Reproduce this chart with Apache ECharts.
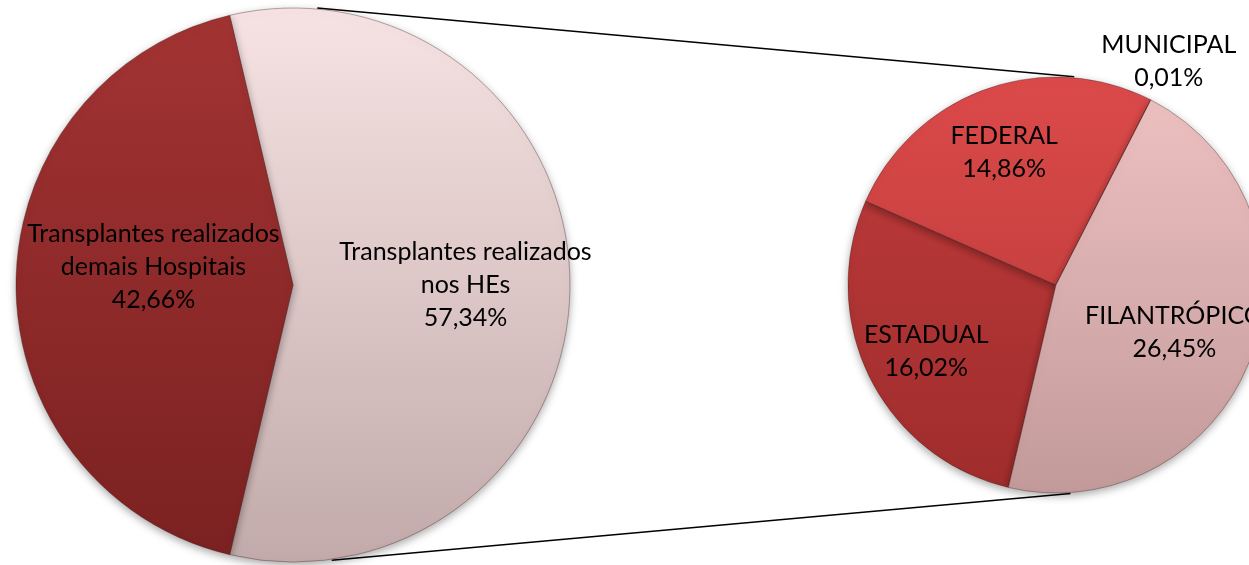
<!doctype html>
<html lang="pt-BR">
<head>
	<meta charset="UTF-8">
	<title>Transplantes</title>
	<script src="https://cdn.jsdelivr.net/npm/echarts@6/dist/echarts.min.js"></script>
	<style>
		html, body { margin: 0; padding: 0; background: #fff; }
		#chart { width: 1249px; height: 565px; }
	</style>
</head>
<body>
	<div id="chart"></div>
	<script>
		// dados
		var mainNames = ['Transplantes realizados\nnos HEs', 'Transplantes realizados\ndemais Hospitais'];
		var mainValues = [57.34, 42.66];
		var subNames = ['ESTADUAL', 'FEDERAL', 'MUNICIPAL', 'FILANTRÓPICO'];
		var subValues = [16.02, 14.86, 0.01, 26.45];

		// geometria
		var bigC = [293, 285], bigR = 277;
		var smallC = [1056, 285], smallR = 208;

		// deslocamento dos rótulos (estilo Excel)
		var mainOffsets = [[31, 0], [2, -18]];
		var subOffsets = [[-34, 19], [-16, -32], [64, -128], [18, 11]];

		function pct(v) {
			return v.toFixed(2).replace('.', ',') + '%';
		}

		function grad(top, bottom, y0, y1) {
			return new echarts.graphic.LinearGradient(0, y0, 0, y1, [
				{ offset: 0, color: top },
				{ offset: 1, color: bottom }
			], true);
		}

		var bigTop = bigC[1] - bigR, bigBot = bigC[1] + bigR;
		var smTop = smallC[1] - smallR, smBot = smallC[1] + smallR;

		var mainColors = [
			grad('#f7e3e3', '#c2aaaa', bigTop, bigBot),
			grad('#a33333', '#7b2121', bigTop, bigBot)
		];
		var subColors = [
			grad('#c23c3c', '#9f2c2c', smTop, smBot),
			grad('#dc4a4a', '#b43636', smTop, smBot),
			grad('#e04c4c', '#c04040', smTop, smBot),
			grad('#efc2c2', '#c39a9a', smTop, smBot)
		];

		// fatia dividida (HEs) centrada à direita
		var mainStart = (mainValues[0] / 100) * 180;
		// a borda ESTADUAL/FILANTRÓPICO segue a borda inferior da fatia dividida
		var subStart = 360 - mainStart;

		var mainData = mainValues.map(function (v, i) {
			return { value: v, name: mainNames[i], itemStyle: { color: mainColors[i] } };
		});
		var subData = subValues.map(function (v, i) {
			return { value: v, name: subNames[i], itemStyle: { color: subColors[i] } };
		});

		function pt(c, r, deg) {
			var a = deg * Math.PI / 180;
			return [c[0] + r * Math.cos(a), c[1] - r * Math.sin(a)];
		}

		var t1 = pt(bigC, bigR + 1, 85), t2 = pt(smallC, smallR + 1, 85);
		var b1 = pt(bigC, bigR + 1, -82), b2 = pt(smallC, smallR + 1, -86);

		var labelStyle = {
			position: 'inside',
			color: '#000',
			fontFamily: 'Lato',
			fontSize: 25,
			lineHeight: 33,
			align: 'center'
		};

		var chart = echarts.init(document.getElementById('chart'));
		var option = {
			animation: false,
			graphic: [
				{ type: 'line', z: 0, shape: { x1: t1[0], y1: t1[1], x2: t2[0], y2: t2[1] }, style: { stroke: '#000', lineWidth: 1.5 } },
				{ type: 'line', z: 0, shape: { x1: b1[0], y1: b1[1], x2: b2[0], y2: b2[1] }, style: { stroke: '#000', lineWidth: 1.5 } }
			],
			series: [
				{
					type: 'pie',
					center: bigC,
					radius: bigR,
					startAngle: mainStart,
					clockwise: true,
					silent: true,
					itemStyle: {
						borderColor: 'rgba(60,20,20,0.35)',
						borderWidth: 1,
						shadowBlur: 8,
						shadowColor: 'rgba(0,0,0,0.35)',
						shadowOffsetY: 3
					},
					label: Object.assign({
						formatter: function (p) { return p.name + '\n' + pct(p.value); }
					}, labelStyle),
					labelLine: { show: false },
					labelLayout: function (p) {
						var o = mainOffsets[p.dataIndex];
						return { dx: o[0], dy: o[1] };
					},
					data: mainData
				},
				{
					type: 'pie',
					center: smallC,
					radius: smallR,
					startAngle: subStart,
					clockwise: true,
					silent: true,
					itemStyle: {
						borderColor: 'rgba(60,20,20,0.35)',
						borderWidth: 1,
						shadowBlur: 8,
						shadowColor: 'rgba(0,0,0,0.35)',
						shadowOffsetY: 3
					},
					label: Object.assign({
						formatter: function (p) { return p.name + '\n' + pct(p.value); }
					}, labelStyle),
					labelLine: { show: false },
					labelLayout: function (p) {
						var o = subOffsets[p.dataIndex];
						return { dx: o[0], dy: o[1], hideOverlap: false };
					},
					data: subData
				}
			]
		};
		chart.setOption(option);
	</script>
</body>
</html>
